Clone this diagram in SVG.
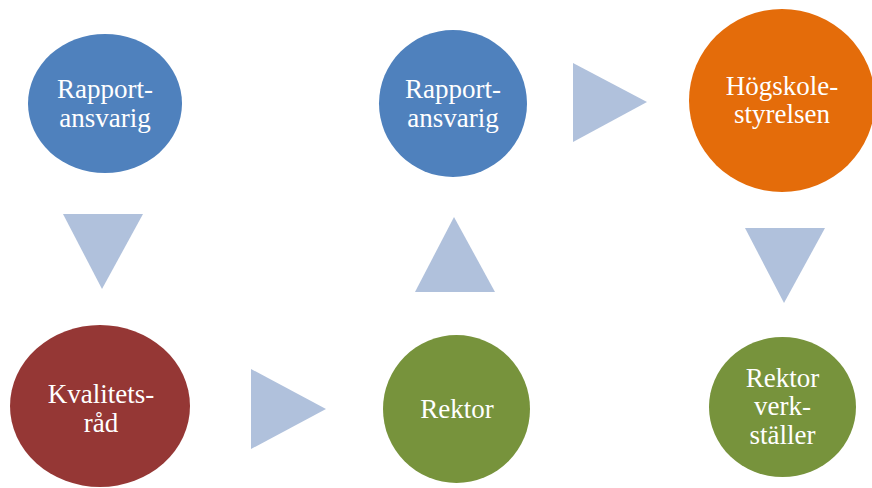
<svg xmlns="http://www.w3.org/2000/svg" width="872" height="488" viewBox="0 0 872 488">
<style>
text{font-family:"Liberation Serif","DejaVu Serif",serif;font-size:27px;fill:#ffffff;text-anchor:middle}
.arrow{fill:#B0C1DC}
</style>
<rect width="872" height="488" fill="#ffffff"/>
<g id="connectors">
<polygon class="arrow" points="63,214 143,214 102,289"/>
<polygon class="arrow" points="251,369 251,449 326,409"/>
<polygon class="arrow" points="454,217 415,292 495,292"/>
<polygon class="arrow" points="573,63 573,142 647,102"/>
<polygon class="arrow" points="745,228 825,228 784,303"/>
</g>
<g id="n1">
<ellipse cx="105" cy="103.5" rx="77" ry="69.5" fill="#4F81BD"/>
<text x="105" y="98">Rapport-</text>
<text x="105" y="127">ansvarig</text>
</g>
<g id="n2">
<ellipse cx="453" cy="103.5" rx="74" ry="73.5" fill="#4F81BD"/>
<text x="453" y="98">Rapport-</text>
<text x="453" y="127">ansvarig</text>
</g>
<g id="n3">
<ellipse cx="782" cy="100.5" rx="93" ry="91.5" fill="#E46C0A"/>
<text x="782" y="95">Högskole-</text>
<text x="782" y="123">styrelsen</text>
</g>
<g id="n4">
<ellipse cx="100" cy="406" rx="90" ry="81" fill="#953735"/>
<text x="101" y="403">Kvalitets-</text>
<text x="101" y="432">råd</text>
</g>
<g id="n5">
<ellipse cx="456.5" cy="409" rx="73.5" ry="74" fill="#77933C"/>
<text x="457" y="418">Rektor</text>
</g>
<g id="n6">
<ellipse cx="782.5" cy="407" rx="73.5" ry="70" fill="#77933C"/>
<text x="782.5" y="387">Rektor</text>
<text x="782.5" y="415">verk-</text>
<text x="782.5" y="444">ställer</text>
</g>
</svg>
